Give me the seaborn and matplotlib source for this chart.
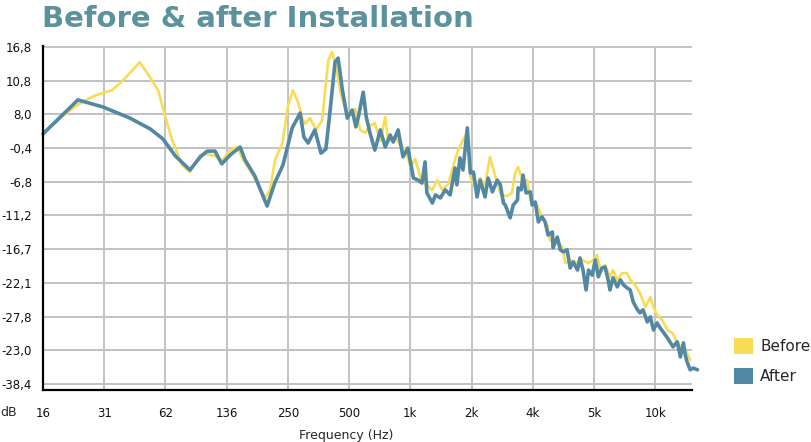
import matplotlib
matplotlib.use("Agg")
import matplotlib.pyplot as plt
from matplotlib.patches import Patch
import pandas as pd
import seaborn as sns

# axis labels (the chart uses evenly spaced ticks with these labels)
freq_labels = ["16", "31", "62", "136", "250", "500", "1k", "2k", "4k", "5k", "10k"]
db_labels = ["-38,4", "-23,0", "-27,8", "-22,1", "-16,7", "-11,2",
             "-6,8", "-0,4", "8,0", "10,8", "16,8"]

# positions in tick units: x = index along freq_labels, y = index along db_labels
after_x = [0.00, 0.57, 0.98, 1.42, 1.75, 1.96, 2.16, 2.40, 2.57, 2.68, 2.81, 2.92,
           3.06, 3.22, 3.30, 3.46, 3.66, 3.79, 3.92, 4.07, 4.20, 4.26, 4.33, 4.44,
           4.54, 4.62, 4.69, 4.77, 4.82, 4.89, 4.97, 5.05, 5.11, 5.15, 5.23, 5.28,
           5.34, 5.42, 5.51, 5.59, 5.67, 5.72, 5.80, 5.88, 5.96, 6.05, 6.13, 6.19,
           6.24, 6.27, 6.36, 6.41, 6.49, 6.57, 6.65, 6.73, 6.76, 6.81, 6.86, 6.93,
           6.98, 7.03, 7.09, 7.14, 7.22, 7.27, 7.34, 7.42, 7.47, 7.52, 7.55, 7.63,
           7.68, 7.75, 7.76, 7.81, 7.84, 7.89, 7.96, 7.99, 8.04, 8.09, 8.15, 8.20,
           8.25, 8.32, 8.33, 8.40, 8.45, 8.50, 8.56, 8.61, 8.66, 8.73, 8.77, 8.82,
           8.87, 8.91, 8.97, 9.02, 9.07, 9.13, 9.18, 9.23, 9.26, 9.31, 9.38, 9.43,
           9.48, 9.54, 9.59, 9.64, 9.71, 9.75, 9.80, 9.87, 9.92, 9.97, 10.03, 10.08,
           10.13, 10.20, 10.25, 10.29, 10.36, 10.41, 10.46, 10.49, 10.52, 10.57,
           10.62, 10.69]
after_y = [7.42, 8.43, 8.22, 7.89, 7.57, 7.27, 6.77, 6.35, 6.74, 6.91, 6.91, 6.53,
           6.80, 7.03, 6.65, 6.17, 5.28, 5.99, 6.50, 7.60, 8.04, 7.33, 7.15, 7.54,
           6.85, 6.97, 8.13, 9.55, 9.67, 8.72, 7.89, 8.13, 7.63, 7.92, 8.66, 7.92,
           7.45, 6.94, 7.54, 7.03, 7.39, 7.18, 7.54, 6.74, 7.00, 6.11, 6.05, 5.96,
           6.59, 5.67, 5.37, 5.61, 5.52, 5.76, 5.61, 6.41, 5.91, 6.71, 6.35, 7.60,
           6.26, 6.29, 5.55, 6.05, 5.55, 6.11, 5.70, 6.05, 5.91, 5.37, 5.31, 4.93,
           5.31, 5.46, 5.82, 5.76, 6.20, 5.67, 5.70, 5.31, 5.40, 4.81, 4.96, 4.81,
           4.42, 4.51, 4.04, 4.36, 3.98, 3.92, 3.98, 3.44, 3.62, 3.38, 3.74, 3.38,
           2.79, 3.38, 3.23, 3.68, 3.18, 3.44, 3.47, 3.09, 2.79, 3.15, 2.88, 3.09,
           2.94, 2.85, 2.79, 2.43, 2.20, 2.11, 2.20, 1.84, 1.99, 1.60, 1.81, 1.66,
           1.54, 1.36, 1.22, 1.10, 1.25, 0.80, 1.22, 0.86, 0.65, 0.42, 0.47, 0.42]

before_x = [0.00, 0.28, 0.56, 0.77, 0.88, 1.13, 1.26, 1.42, 1.58, 1.70, 1.88, 1.99,
            2.11, 2.27, 2.40, 2.57, 2.68, 2.81, 2.92, 3.06, 3.17, 3.27, 3.43, 3.63,
            3.71, 3.79, 3.91, 4.00, 4.08, 4.17, 4.23, 4.28, 4.36, 4.46, 4.56, 4.61,
            4.66, 4.72, 4.79, 4.87, 4.95, 5.03, 5.10, 5.18, 5.26, 5.34, 5.42, 5.51,
            5.59, 5.64, 5.75, 5.83, 5.92, 6.00, 6.08, 6.16, 6.27, 6.36, 6.44, 6.52,
            6.62, 6.70, 6.78, 6.86, 6.93, 6.98, 7.06, 7.14, 7.22, 7.30, 7.39, 7.48,
            7.58, 7.66, 7.71, 7.76, 7.83, 7.91, 7.96, 8.07, 8.15, 8.24, 8.28, 8.40,
            8.48, 8.53, 8.61, 8.73, 8.81, 8.91, 8.99, 9.05, 9.10, 9.18, 9.26, 9.31,
            9.38, 9.46, 9.54, 9.59, 9.67, 9.75, 9.84, 9.92, 9.97, 10.03, 10.11, 10.20,
            10.28, 10.36, 10.44, 10.52, 10.57]
before_y = [7.45, 7.89, 8.28, 8.49, 8.58, 8.72, 8.93, 9.23, 9.55, 9.23, 8.72, 7.98,
            7.24, 6.50, 6.29, 6.80, 6.82, 6.77, 6.62, 6.94, 7.03, 6.65, 6.20, 5.52,
            5.76, 6.65, 7.15, 8.22, 8.72, 8.34, 7.92, 7.72, 7.89, 7.54, 7.83, 8.75,
            9.61, 9.85, 9.38, 8.55, 8.10, 7.98, 8.16, 7.54, 7.45, 7.66, 7.74, 7.21,
            7.92, 7.18, 7.36, 7.09, 6.97, 6.44, 6.68, 6.14, 5.88, 5.76, 6.05, 5.76,
            5.93, 6.47, 6.94, 7.24, 7.45, 6.14, 5.82, 6.11, 5.88, 6.74, 6.14, 5.61,
            5.58, 5.67, 6.26, 6.44, 6.05, 6.05, 5.46, 5.31, 4.96, 4.69, 4.27, 4.18,
            4.07, 3.59, 3.68, 3.59, 3.68, 3.59, 3.68, 3.83, 3.41, 3.53, 3.18, 3.38,
            3.09, 3.29, 3.29, 3.09, 2.94, 2.70, 2.28, 2.58, 2.28, 2.05, 1.90, 1.60,
            1.51, 1.22, 1.07, 0.92, 0.71]

yellow = "#f9dc55"
blue = "#5388a3"
teal = "#5b929b"

df = pd.concat([
    pd.DataFrame({"pos": before_x, "level": before_y, "series": "Before"}),
    pd.DataFrame({"pos": after_x, "level": after_y, "series": "After"}),
], ignore_index=True)

sns.set_theme(style="white")
plt.rcParams["font.family"] = ["DejaVu Sans"]

fig = plt.figure(figsize=(8.11, 4.42), dpi=100)
ax = fig.add_axes([43 / 811, 1 - 390 / 442, (692 - 43) / 811, (390 - 46) / 442])

sns.lineplot(data=df, x="pos", y="level", hue="series", sort=False, estimator=None,
             palette={"Before": yellow, "After": blue}, ax=ax, legend=False)
for line, lw in zip(ax.lines, [1.9, 2.6]):
    line.set_linewidth(lw)
    line.set_clip_on(False)
    line.set_solid_joinstyle("round")

ax.set_xlim(0, 10.6)
ax.set_ylim(-0.18, 10.03)
ax.set_xticks(range(len(freq_labels)))
ax.set_xticklabels(freq_labels, fontsize=8.5)
ax.set_yticks(range(len(db_labels)))
ax.set_yticklabels(db_labels, fontsize=8.5)
ax.grid(True, color="#c2c2c2", linewidth=1.4)
ax.set_axisbelow(True)
for side in ["top", "right"]:
    ax.spines[side].set_visible(False)
for side in ["left", "bottom"]:
    ax.spines[side].set_color("black")
    ax.spines[side].set_linewidth(1.6)
ax.tick_params(axis="both", length=4, width=1.3, color="black", pad=4, labelcolor="#111111")
ax.tick_params(axis="x", pad=8)
ax.set_xlabel("")
ax.set_ylabel("")

fig.text(0.0, 1 - 413 / 442, "dB", fontsize=9, va="center", ha="left")
fig.text(346 / 811, 1 - 435 / 442, "Frequency (Hz)", fontsize=9, va="center", ha="center")
fig.text(42 / 811, 1 - 27 / 442, "Before & after Installation", fontsize=21,
         fontweight="bold", color=teal, va="baseline", ha="left")

handles = [Patch(facecolor=yellow, edgecolor="none", label="Before"),
           Patch(facecolor=blue, edgecolor="none", label="After")]
fig.legend(handles=handles, loc="center left", bbox_to_anchor=(722 / 811, 1 - 361 / 442),
           frameon=False, fontsize=11, handlelength=1.25, handleheight=1.25,
           handletextpad=0.45, labelspacing=0.95, borderpad=0.3)

fig.savefig("out.png", dpi=100)
